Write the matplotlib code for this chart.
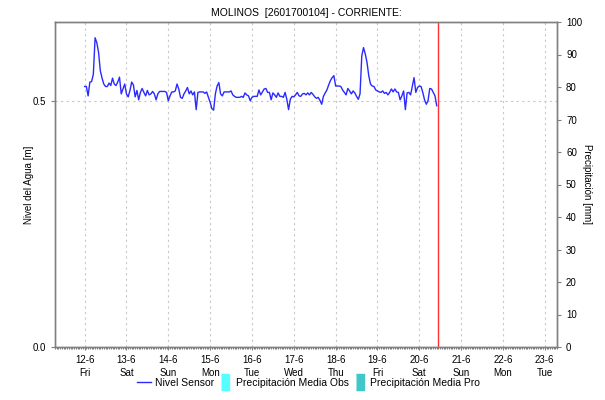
import matplotlib
matplotlib.use('Agg')
import matplotlib.pyplot as plt
import matplotlib.dates as mdates
from matplotlib.lines import Line2D
import pandas as pd

plt.rcParams['font.family'] = ['Liberation Sans', 'DejaVu Sans']

# hourly water level [m], starting 12-6 00:00
nivel = [
    # 12-6
    0.529, 0.529, 0.510, 0.538, 0.539, 0.554, 0.628, 0.618, 0.598, 0.561, 0.546, 0.534,
    0.529, 0.529, 0.536, 0.531, 0.546, 0.534, 0.531, 0.538, 0.548, 0.514, 0.524, 0.534,
    # 13-6
    0.514, 0.508, 0.521, 0.538, 0.532, 0.508, 0.521, 0.502, 0.517, 0.525, 0.517, 0.510,
    0.521, 0.512, 0.514, 0.519, 0.514, 0.502, 0.514, 0.519, 0.519, 0.519, 0.519, 0.517,
    # 14-6
    0.500, 0.510, 0.518, 0.518, 0.520, 0.534, 0.524, 0.507, 0.505, 0.514, 0.520, 0.527,
    0.514, 0.520, 0.512, 0.518, 0.482, 0.517, 0.518, 0.518, 0.518, 0.515, 0.518, 0.507,
    # 15-6
    0.497, 0.484, 0.481, 0.514, 0.530, 0.537, 0.514, 0.510, 0.518, 0.518, 0.518, 0.518,
    0.520, 0.512, 0.509, 0.507, 0.507, 0.507, 0.509, 0.507, 0.516, 0.512, 0.510, 0.500,
    # 16-6
    0.507, 0.509, 0.509, 0.509, 0.522, 0.512, 0.518, 0.524, 0.525, 0.517, 0.517, 0.502,
    0.516, 0.512, 0.507, 0.516, 0.509, 0.509, 0.507, 0.517, 0.503, 0.482, 0.503, 0.509,
    # 17-6
    0.508, 0.512, 0.517, 0.510, 0.509, 0.514, 0.515, 0.512, 0.516, 0.512, 0.517, 0.513,
    0.508, 0.505, 0.507, 0.501, 0.493, 0.509, 0.516, 0.522, 0.532, 0.541, 0.547, 0.551,
    # 18-6
    0.530, 0.530, 0.530, 0.529, 0.522, 0.517, 0.512, 0.525, 0.520, 0.514, 0.520, 0.516,
    0.509, 0.503, 0.514, 0.591, 0.608, 0.595, 0.578, 0.551, 0.534, 0.530, 0.529, 0.522,
    # 19-6
    0.520, 0.518, 0.517, 0.520, 0.515, 0.517, 0.512, 0.517, 0.524, 0.518, 0.524, 0.518,
    0.517, 0.502, 0.510, 0.520, 0.482, 0.516, 0.517, 0.512, 0.530, 0.547, 0.517, 0.527,
    # 20-6
    0.530, 0.529, 0.517, 0.502, 0.493, 0.500, 0.525, 0.524, 0.517, 0.510, 0.490,
]
inicio = '2020-06-12 00:00'
ahora = '2020-06-20 10:30'
x_desde = '2020-06-11 07:00'
x_hasta = '2020-06-23 07:00'

tiempos = pd.date_range(inicio, periods=len(nivel), freq='h')

fig = plt.figure(figsize=(6.05, 4.0), dpi=100)
ax = fig.add_axes([55 / 605, 53 / 400, 502 / 605, 325 / 400])
ax2 = ax.twinx()

grid_col = '#c8c8c8'
axis_col = '#808080'

ax.plot(tiempos, nivel, color='#2a2aff', lw=1.0, zorder=3)
ax.axvline(pd.Timestamp(ahora), color='#ff3030', lw=1.0, zorder=4)

ax.set_xlim(pd.Timestamp(x_desde), pd.Timestamp(x_hasta))
ax.set_ylim(0, 0.66)
ax.set_yticks([0.0, 0.5])
ax.yaxis.set_major_formatter(matplotlib.ticker.FormatStrFormatter('%.1f'))
ax2.set_ylim(0, 100)
ax2.set_yticks(range(0, 101, 10))

ax.xaxis.set_major_locator(mdates.DayLocator())
ax.xaxis.set_major_formatter(mdates.DateFormatter('%-d-%-m\n%a'))
ax.xaxis.set_minor_locator(mdates.HourLocator())

ax.grid(True, which='major', color=grid_col, ls=(0, (2, 3)), lw=0.8)
ax.set_axisbelow(True)

for a in (ax, ax2):
    for s in a.spines.values():
        s.set_color(axis_col)
        s.set_linewidth(1.0)
    a.tick_params(colors='#000000', labelsize=7, length=3, width=0.8)
    a.tick_params(axis='both', color=axis_col)
ax.tick_params(axis='x', which='major', length=2, pad=4)
ax.tick_params(axis='x', which='minor', length=1.5, color='#606060', width=0.6)
for lbl in ax.get_xticklabels():
    lbl.set_linespacing(1.3)

ax.set_ylabel('Nivel del Agua [m]', fontsize=7, labelpad=-1)
ax2.set_ylabel('Precipitación [mm]', fontsize=7, rotation=-90, labelpad=7)
ax.set_title('MOLINOS  [2601700104] - CORRIENTE:', fontsize=7.5, pad=4)

caja = [(-1, -2.2), (1, -2.2), (1, 2.2), (-1, 2.2)]
handles = [
    Line2D([], [], color='#2a2aff', lw=1.0),
    Line2D([], [], ls='none', marker=caja, markersize=12, color='#55ffff'),
    Line2D([], [], ls='none', marker=caja, markersize=12, color='#40c8c8'),
]
labels = ['Nivel Sensor', 'Precipitación Media Obs', 'Precipitación Media Pro']
fig.legend(handles, labels, loc='center', bbox_to_anchor=(0.51, 17 / 400), ncol=3,
           frameon=False, fontsize=7.5, handlelength=1.4, handletextpad=0.3,
           columnspacing=0.4)

fig.savefig('out.png', dpi=100)
